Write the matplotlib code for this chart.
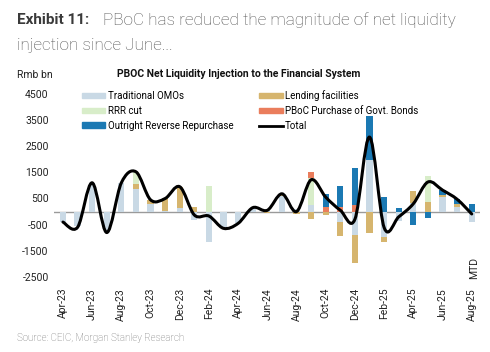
import matplotlib
matplotlib.use("Agg")
import matplotlib.pyplot as plt
from matplotlib.path import Path
from matplotlib.patches import PathPatch, Patch
from matplotlib.lines import Line2D
import numpy as np

# Monthly data, Rmb bn
months = ["Apr-23", "May-23", "Jun-23", "Jul-23", "Aug-23", "Sep-23", "Oct-23", "Nov-23",
          "Dec-23", "Jan-24", "Feb-24", "Mar-24", "Apr-24", "May-24", "Jun-24", "Jul-24",
          "Aug-24", "Sep-24", "Oct-24", "Nov-24", "Dec-24", "Jan-25", "Feb-25", "Mar-25",
          "Apr-25", "May-25", "Jun-25", "Jul-25", "Aug-25"]

omo = [-400, -550, 1100, -780, 1100, 850, 280, 20, 150, -320, -1150, -640, -450, 150,
       100, 600, 80, 250, 0, -380, -890, 1970, -980, -350, 320, 0, 550, 190, -380]
lending = [0, 0, 0, 0, 0, 190, 165, 480, 800, 190, 0, 0, 0, 0,
           -50, 80, -80, -290, -120, -550, -1080, -800, -200, 0, 480, 380, 80, 90, 0]
rrr = [0, 0, 0, 0, 0, 480, 0, 0, 0, 0, 980, 0, 0, 0,
       0, 0, 0, 1045, 0, 0, 0, 0, 0, 0, 0, 980, 0, 0, 0]
pboc = [0, 0, 0, 0, 0, 0, 0, 0, 0, 0, 0, 0, 0, 0,
        0, 0, 0, 210, 170, 165, 250, 0, 0, 0, 0, 0, 0, 0, 0]
outright = [0, 0, 0, 0, 0, 0, 0, 0, 0, 0, 0, 0, 0, 0,
            0, 0, 0, 0, 500, 815, 1430, 1675, 570, 150, -500, -230, 190, 190, 290]
total = [-400, -600, 1100, -800, 1100, 1520, 450, 500, 950, -130, -170, -640, -450, 150,
         50, 680, 0, 1215, 550, 50, -290, 2845, -610, -200, 300, 1130, 820, 470, -90]

series = [
    ("Traditional OMOs", omo, "#c9d9e5"),
    ("Lending facilities", lending, "#d6b56e"),
    ("RRR cut", rrr, "#d8edc9"),
    ("PBoC Purchase of Govt. Bonds", pboc, "#ea7d5c"),
    ("Outright Reverse Repurchase", outright, "#1b79b3"),
]

narrow = ["Liberation Sans Narrow", "Roboto", "DejaVu Sans"]

fig = plt.figure(figsize=(4.9, 3.52), dpi=100)
ax = fig.add_axes([0.1106, 0.198, 0.870, 0.558])

x = np.arange(len(months))
pos_base = np.zeros(len(months))
neg_base = np.zeros(len(months))
for name, vals, col in series:
    v = np.array(vals, dtype=float)
    bottom = np.where(v >= 0, pos_base, neg_base)
    ax.bar(x, v, bottom=bottom, width=0.42, color=col, linewidth=0, zorder=2)
    pos_base += np.where(v > 0, v, 0)
    neg_base += np.where(v < 0, v, 0)

ax.axhline(0, color="#9a9a9a", lw=1, zorder=1)

# smoothed total line (Catmull-Rom as cubic Bezier)
pts = np.column_stack([x, total]).astype(float)
ext = np.vstack([pts[0], pts, pts[-1]])
verts = [pts[0]]
codes = [Path.MOVETO]
for i in range(len(pts) - 1):
    p0, p1, p2, p3 = ext[i], ext[i + 1], ext[i + 2], ext[i + 3]
    verts += [p1 + (p2 - p0) / 6, p2 - (p3 - p1) / 6, p2]
    codes += [Path.CURVE4] * 3
ax.add_patch(PathPatch(Path(verts, codes), fill=False, lw=2.2, ec="black", zorder=3,
                       capstyle="round", joinstyle="round"))

ax.set_xlim(-0.6, 28.6)
ax.set_ylim(-2700, 4800)
ax.set_yticks(np.arange(-2500, 4501, 1000))
ax.set_yticklabels([str(v) for v in range(-2500, 4501, 1000)], family=narrow, fontsize=7.5,
                   color="#222222")
ticks = x[::2]
labels = [months[i] for i in ticks]
ax.set_xticks(ticks)
ax.set_xticklabels(labels, rotation=90, family=narrow, fontsize=7.5, color="#222222")
ax.tick_params(length=0, pad=4)
for s in ax.spines.values():
    s.set_visible(False)
ax.text(28.15, -2170, "MTD", rotation=90, ha="center", va="center", family=narrow,
        fontsize=7.5, color="#222222")

# legend
handles = {name: Patch(color=col) for name, vals, col in series}
handles["Total"] = Line2D([0], [0], color="black", lw=2)
order = ["Traditional OMOs", "RRR cut", "Outright Reverse Repurchase",
         "Lending facilities", "PBoC Purchase of Govt. Bonds", "Total"]
fig.legend([handles[k] for k in order], order, ncol=2, loc="upper left",
           bbox_to_anchor=(0.157, 0.758), frameon=False,
           prop={"family": narrow, "size": 7.0}, handlelength=2.4, handleheight=0.5,
           handletextpad=0.25, labelspacing=0.5, columnspacing=2.7, borderpad=0)

fig.text(0.487, 0.79, "PBOC Net Liquidity Injection to the Financial System", ha="center",
         va="center", family=narrow, fontsize=7.5, fontweight="bold", color="#111111")
fig.text(0.072, 0.787, "Rmb bn", ha="center", va="center", family=narrow, fontsize=7.5,
         color="#222222")

fig.text(0.035, 0.943, "Exhibit 11:", family="Roboto", fontweight="bold", fontsize=11,
         color="#3a3a3a", va="center")
fig.text(0.211, 0.943, "PBoC has reduced the magnitude of net liquidity", family="Roboto",
         fontweight="light", fontsize=12.3, color="#505050", va="center")
fig.text(0.035, 0.872, "injection since June...", family="Roboto", fontweight="light",
         fontsize=12.3, color="#505050", va="center")
fig.text(0.035, 0.039, "Source: CEIC, Morgan Stanley Research", family="Roboto",
         fontweight="light", fontsize=7, color="#6e6e6e", va="center")

fig.savefig("out.png", dpi=100)
